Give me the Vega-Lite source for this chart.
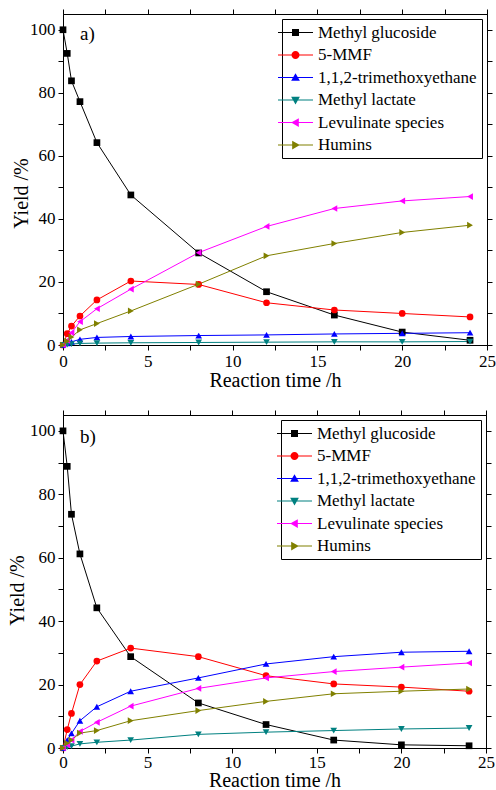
{
  "$schema": "https://vega.github.io/schema/vega-lite/v6.json",
  "background": "white",
  "padding": {"left": 7, "top": 8, "right": 0, "bottom": 0},
  "spacing": 18,
  "align": "none",
  "datasets": {
    "d": [
      {"p":"a","s":"Methyl glucoside","t":0,"y":100},{"p":"a","s":"Methyl glucoside","t":0.25,"y":92.5},{"p":"a","s":"Methyl glucoside","t":0.5,"y":83.8},{"p":"a","s":"Methyl glucoside","t":1,"y":77.2},{"p":"a","s":"Methyl glucoside","t":2,"y":64.2},{"p":"a","s":"Methyl glucoside","t":4,"y":47.6},{"p":"a","s":"Methyl glucoside","t":8,"y":29.2},{"p":"a","s":"Methyl glucoside","t":12,"y":16.9},{"p":"a","s":"Methyl glucoside","t":16,"y":9.5},{"p":"a","s":"Methyl glucoside","t":20,"y":4.1},{"p":"a","s":"Methyl glucoside","t":24,"y":1.5},
      {"p":"a","s":"5-MMF","t":0,"y":0},{"p":"a","s":"5-MMF","t":0.25,"y":3.6},{"p":"a","s":"5-MMF","t":0.5,"y":6.0},{"p":"a","s":"5-MMF","t":1,"y":9.2},{"p":"a","s":"5-MMF","t":2,"y":14.3},{"p":"a","s":"5-MMF","t":4,"y":20.3},{"p":"a","s":"5-MMF","t":8,"y":19.2},{"p":"a","s":"5-MMF","t":12,"y":13.4},{"p":"a","s":"5-MMF","t":16,"y":11.1},{"p":"a","s":"5-MMF","t":20,"y":10.0},{"p":"a","s":"5-MMF","t":24,"y":8.9},
      {"p":"a","s":"1,1,2-trimethoxyethane","t":0,"y":0},{"p":"a","s":"1,1,2-trimethoxyethane","t":0.25,"y":0.5},{"p":"a","s":"1,1,2-trimethoxyethane","t":0.5,"y":1.0},{"p":"a","s":"1,1,2-trimethoxyethane","t":1,"y":1.8},{"p":"a","s":"1,1,2-trimethoxyethane","t":2,"y":2.4},{"p":"a","s":"1,1,2-trimethoxyethane","t":4,"y":2.7},{"p":"a","s":"1,1,2-trimethoxyethane","t":8,"y":3.0},{"p":"a","s":"1,1,2-trimethoxyethane","t":12,"y":3.2},{"p":"a","s":"1,1,2-trimethoxyethane","t":16,"y":3.5},{"p":"a","s":"1,1,2-trimethoxyethane","t":20,"y":3.7},{"p":"a","s":"1,1,2-trimethoxyethane","t":24,"y":3.9},
      {"p":"a","s":"Methyl lactate","t":0,"y":0},{"p":"a","s":"Methyl lactate","t":0.25,"y":0.1},{"p":"a","s":"Methyl lactate","t":0.5,"y":0.3},{"p":"a","s":"Methyl lactate","t":1,"y":0.5},{"p":"a","s":"Methyl lactate","t":2,"y":0.6},{"p":"a","s":"Methyl lactate","t":4,"y":0.7},{"p":"a","s":"Methyl lactate","t":8,"y":0.8},{"p":"a","s":"Methyl lactate","t":12,"y":0.9},{"p":"a","s":"Methyl lactate","t":16,"y":1.0},{"p":"a","s":"Methyl lactate","t":20,"y":1.0},{"p":"a","s":"Methyl lactate","t":24,"y":1.1},
      {"p":"a","s":"Levulinate species","t":0,"y":0},{"p":"a","s":"Levulinate species","t":0.25,"y":1.5},{"p":"a","s":"Levulinate species","t":0.5,"y":3.9},{"p":"a","s":"Levulinate species","t":1,"y":7.4},{"p":"a","s":"Levulinate species","t":2,"y":11.5},{"p":"a","s":"Levulinate species","t":4,"y":17.7},{"p":"a","s":"Levulinate species","t":8,"y":29.3},{"p":"a","s":"Levulinate species","t":12,"y":37.6},{"p":"a","s":"Levulinate species","t":16,"y":43.3},{"p":"a","s":"Levulinate species","t":20,"y":45.7},{"p":"a","s":"Levulinate species","t":24,"y":47.1},
      {"p":"a","s":"Humins","t":0,"y":0},{"p":"a","s":"Humins","t":0.25,"y":1.2},{"p":"a","s":"Humins","t":0.5,"y":2.5},{"p":"a","s":"Humins","t":1,"y":4.8},{"p":"a","s":"Humins","t":2,"y":6.8},{"p":"a","s":"Humins","t":4,"y":10.8},{"p":"a","s":"Humins","t":8,"y":19.3},{"p":"a","s":"Humins","t":12,"y":28.3},{"p":"a","s":"Humins","t":16,"y":32.2},{"p":"a","s":"Humins","t":20,"y":35.7},{"p":"a","s":"Humins","t":24,"y":38.0},
      {"p":"b","s":"Methyl glucoside","t":0,"y":100},{"p":"b","s":"Methyl glucoside","t":0.25,"y":88.8},{"p":"b","s":"Methyl glucoside","t":0.5,"y":73.7},{"p":"b","s":"Methyl glucoside","t":1,"y":61.2},{"p":"b","s":"Methyl glucoside","t":2,"y":44.2},{"p":"b","s":"Methyl glucoside","t":4,"y":28.8},{"p":"b","s":"Methyl glucoside","t":8,"y":14.2},{"p":"b","s":"Methyl glucoside","t":12,"y":7.4},{"p":"b","s":"Methyl glucoside","t":16,"y":2.5},{"p":"b","s":"Methyl glucoside","t":20,"y":1.0},{"p":"b","s":"Methyl glucoside","t":24,"y":0.7},
      {"p":"b","s":"5-MMF","t":0,"y":0},{"p":"b","s":"5-MMF","t":0.25,"y":5.8},{"p":"b","s":"5-MMF","t":0.5,"y":10.9},{"p":"b","s":"5-MMF","t":1,"y":20.0},{"p":"b","s":"5-MMF","t":2,"y":27.4},{"p":"b","s":"5-MMF","t":4,"y":31.5},{"p":"b","s":"5-MMF","t":8,"y":28.8},{"p":"b","s":"5-MMF","t":12,"y":22.8},{"p":"b","s":"5-MMF","t":16,"y":20.2},{"p":"b","s":"5-MMF","t":20,"y":19.2},{"p":"b","s":"5-MMF","t":24,"y":17.9},
      {"p":"b","s":"1,1,2-trimethoxyethane","t":0,"y":0},{"p":"b","s":"1,1,2-trimethoxyethane","t":0.25,"y":2.5},{"p":"b","s":"1,1,2-trimethoxyethane","t":0.5,"y":4.6},{"p":"b","s":"1,1,2-trimethoxyethane","t":1,"y":8.6},{"p":"b","s":"1,1,2-trimethoxyethane","t":2,"y":13.0},{"p":"b","s":"1,1,2-trimethoxyethane","t":4,"y":17.9},{"p":"b","s":"1,1,2-trimethoxyethane","t":8,"y":22.1},{"p":"b","s":"1,1,2-trimethoxyethane","t":12,"y":26.5},{"p":"b","s":"1,1,2-trimethoxyethane","t":16,"y":28.8},{"p":"b","s":"1,1,2-trimethoxyethane","t":20,"y":30.2},{"p":"b","s":"1,1,2-trimethoxyethane","t":24,"y":30.5},
      {"p":"b","s":"Methyl lactate","t":0,"y":0},{"p":"b","s":"Methyl lactate","t":0.25,"y":0.3},{"p":"b","s":"Methyl lactate","t":0.5,"y":0.6},{"p":"b","s":"Methyl lactate","t":1,"y":1.3},{"p":"b","s":"Methyl lactate","t":2,"y":1.8},{"p":"b","s":"Methyl lactate","t":4,"y":2.5},{"p":"b","s":"Methyl lactate","t":8,"y":4.3},{"p":"b","s":"Methyl lactate","t":12,"y":5.0},{"p":"b","s":"Methyl lactate","t":16,"y":5.5},{"p":"b","s":"Methyl lactate","t":20,"y":6.0},{"p":"b","s":"Methyl lactate","t":24,"y":6.3},
      {"p":"b","s":"Levulinate species","t":0,"y":0},{"p":"b","s":"Levulinate species","t":0.25,"y":1.0},{"p":"b","s":"Levulinate species","t":0.5,"y":2.5},{"p":"b","s":"Levulinate species","t":1,"y":5.2},{"p":"b","s":"Levulinate species","t":2,"y":8.1},{"p":"b","s":"Levulinate species","t":4,"y":13.2},{"p":"b","s":"Levulinate species","t":8,"y":18.8},{"p":"b","s":"Levulinate species","t":12,"y":22.1},{"p":"b","s":"Levulinate species","t":16,"y":24.1},{"p":"b","s":"Levulinate species","t":20,"y":25.5},{"p":"b","s":"Levulinate species","t":24,"y":26.8},
      {"p":"b","s":"Humins","t":0,"y":0},{"p":"b","s":"Humins","t":0.25,"y":1.5},{"p":"b","s":"Humins","t":0.5,"y":2.5},{"p":"b","s":"Humins","t":1,"y":4.7},{"p":"b","s":"Humins","t":2,"y":5.5},{"p":"b","s":"Humins","t":4,"y":8.6},{"p":"b","s":"Humins","t":8,"y":11.8},{"p":"b","s":"Humins","t":12,"y":14.7},{"p":"b","s":"Humins","t":16,"y":17.1},{"p":"b","s":"Humins","t":20,"y":17.9},{"p":"b","s":"Humins","t":24,"y":18.6}
    ]
  },
  "vconcat": [
    {
      "width": 424, "height": 331,
      "data": {"name": "d"},
      "transform": [{"filter": "datum.p == 'a'"}],
      "layer": [
        {
          "mark": {"type": "line", "strokeWidth": 1},
          "encoding": {
            "x": {"field": "t", "type": "quantitative", "scale": {"domain": [0, 25], "nice": false},
                  "axis": {"title": "Reaction time /h", "values": [0,2.5,5,7.5,10,12.5,15,17.5,20,22.5,25], "labelExpr": "datum.value % 5 == 0 ? datum.label : ''", "labelFlush": false, "labelOverlap": false, "labelPadding": 3, "titlePadding": 1,
                           "encode": {"ticks": {"update": {"y2": {"signal": "datum.value % 5 == 0 ? 5 : 3"}}}}}},
            "y": {"field": "y", "type": "quantitative", "scale": {"domain": [0, 105], "nice": false, "zero": true},
                  "axis": {"title": "Yield /%", "values": [0,10,20,30,40,50,60,70,80,90,100], "labelExpr": "datum.value % 20 == 0 ? datum.label : ''", "labelOverlap": false, "labelPadding": 3, "titlePadding": -2, "titleY": 179, "titleAlign": "center",
                           "encode": {"ticks": {"update": {"x2": {"signal": "datum.value % 20 == 0 ? -5 : -3"}}}}}},
            "color": {"field": "s", "type": "nominal",
                      "scale": {"domain": ["Methyl glucoside","5-MMF","1,1,2-trimethoxyethane","Methyl lactate","Levulinate species","Humins"], "range": ["#000000","#ff0000","#0000ff","#008080","#ff00ff","#808000"]}}
          }
        },
        {"transform": [{"filter": "datum.s == 'Methyl glucoside'"}], "mark": {"type": "point", "shape": "square", "filled": true, "opacity": 1, "size": 45},
         "encoding": {"x": {"field": "t", "type": "quantitative", "axis": null}, "y": {"field": "y", "type": "quantitative", "axis": null}, "color": {"field": "s", "type": "nominal"}}},
        {"transform": [{"filter": "datum.s == '5-MMF'"}], "mark": {"type": "point", "shape": "circle", "filled": true, "opacity": 1, "size": 45},
         "encoding": {"x": {"field": "t", "type": "quantitative", "axis": null}, "y": {"field": "y", "type": "quantitative", "axis": null}, "color": {"field": "s", "type": "nominal"}}},
        {"transform": [{"filter": "datum.s == '1,1,2-trimethoxyethane'"}], "mark": {"type": "point", "shape": "triangle-up", "filled": true, "opacity": 1, "size": 45},
         "encoding": {"x": {"field": "t", "type": "quantitative", "axis": null}, "y": {"field": "y", "type": "quantitative", "axis": null}, "color": {"field": "s", "type": "nominal"}}},
        {"transform": [{"filter": "datum.s == 'Methyl lactate'"}], "mark": {"type": "point", "shape": "triangle-down", "filled": true, "opacity": 1, "size": 45},
         "encoding": {"x": {"field": "t", "type": "quantitative", "axis": null}, "y": {"field": "y", "type": "quantitative", "axis": null}, "color": {"field": "s", "type": "nominal"}}},
        {"transform": [{"filter": "datum.s == 'Levulinate species'"}], "mark": {"type": "point", "shape": "triangle-left", "filled": true, "opacity": 1, "size": 45},
         "encoding": {"x": {"field": "t", "type": "quantitative", "axis": null}, "y": {"field": "y", "type": "quantitative", "axis": null}, "color": {"field": "s", "type": "nominal"}}},
        {"transform": [{"filter": "datum.s == 'Humins'"}], "mark": {"type": "point", "shape": "triangle-right", "filled": true, "opacity": 1, "size": 45},
         "encoding": {"x": {"field": "t", "type": "quantitative", "axis": null}, "y": {"field": "y", "type": "quantitative", "axis": null}, "color": {"field": "s", "type": "nominal"}}},
        {
          "transform": [{"filter": "false"}],
          "mark": {"type": "point", "filled": true, "opacity": 1, "size": 49},
          "encoding": {
            "x": {"field": "t", "type": "quantitative", "axis": null},
            "y": {"field": "y", "type": "quantitative", "axis": null},
            "color": {"field": "s", "type": "nominal",
                      "legend": {"title": null, "orient": "top-right", "offset": 5, "symbolOffset": 0, "labelOffset": 14,
                                 "encode": {"symbols": {"update": {"opacity": {"value": 1}, "size": {"value": 49}}}}}},
            "shape": {"field": "s", "type": "nominal",
                      "scale": {"domain": ["Methyl glucoside","5-MMF","1,1,2-trimethoxyethane","Methyl lactate","Levulinate species","Humins"],
                                "range": ["M-5,-0.15H5V0.15H-5ZM-1,-1H1V1H-1Z",
                                          "M-5,-0.15H5V0.15H-5ZM-1.15,0A1.15,1.15 0 1,1 1.15,0A1.15,1.15 0 1,1 -1.15,0Z",
                                          "M-5,-0.15H5V0.15H-5ZM0,-1.25L1.25,0.95H-1.25Z",
                                          "M-5,-0.15H5V0.15H-5ZM0,1.25L-1.25,-0.95H1.25Z",
                                          "M-5,-0.15H5V0.15H-5ZM-1.25,0L0.95,-1.25V1.25Z",
                                          "M-5,-0.15H5V0.15H-5ZM1.25,0L-0.95,1.25V-1.25Z"]},
                      "legend": {"title": null, "orient": "top-right", "offset": 5, "symbolOffset": 0, "labelOffset": 14,
                                 "encode": {"symbols": {"update": {"opacity": {"value": 1}, "size": {"value": 49}}}}}}
          }
        },
        {
          "mark": {"type": "point", "opacity": 0},
          "encoding": {
            "x": {"field": "t", "type": "quantitative",
                  "axis": {"orient": "top", "title": null, "labels": false, "values": [0,2.5,5,7.5,10,12.5,15,17.5,20,22.5,25],
                           "encode": {"ticks": {"update": {"y2": {"signal": "datum.value % 5 == 0 ? -5 : -3"}}}}}},
            "y": {"field": "y", "type": "quantitative",
                  "axis": {"orient": "right", "title": null, "labels": false, "values": [0,10,20,30,40,50,60,70,80,90,100],
                           "encode": {"ticks": {"update": {"x2": {"signal": "datum.value % 20 == 0 ? 5 : 3"}}}}}}
          }
        },
        {
          "data": {"values": [{"p": "a", "label": "a)"}]},
          "mark": {"type": "text", "font": "Liberation Serif", "fontSize": 19, "align": "left", "baseline": "middle", "color": "black"},
          "encoding": {
            "x": {"datum": 1.0, "type": "quantitative", "axis": null},
            "y": {"datum": 98.7, "type": "quantitative", "axis": null},
            "text": {"field": "label"}
          }
        }
      ],
      "resolve": {"axis": {"x": "independent", "y": "independent"}}
    },
    {
      "width": 423, "height": 333,
      "data": {"name": "d"},
      "transform": [{"filter": "datum.p == 'b'"}],
      "layer": [
        {
          "mark": {"type": "line", "strokeWidth": 1},
          "encoding": {
            "x": {"field": "t", "type": "quantitative", "scale": {"domain": [0, 25], "nice": false},
                  "axis": {"title": "Reaction time /h", "values": [0,2.5,5,7.5,10,12.5,15,17.5,20,22.5,25], "labelExpr": "datum.value % 5 == 0 ? datum.label : ''", "labelFlush": false, "labelOverlap": false, "labelPadding": 1, "titlePadding": 0,
                           "encode": {"ticks": {"update": {"y2": {"signal": "datum.value % 5 == 0 ? 5 : 3"}}}}}},
            "y": {"field": "y", "type": "quantitative", "scale": {"domain": [0, 105], "nice": false, "zero": true},
                  "axis": {"title": "Yield /%", "values": [0,10,20,30,40,50,60,70,80,90,100], "labelExpr": "datum.value % 20 == 0 ? datum.label : ''", "labelOverlap": false, "labelPadding": 3, "titlePadding": 2, "titleY": 175, "titleAlign": "center",
                           "encode": {"ticks": {"update": {"x2": {"signal": "datum.value % 20 == 0 ? -5 : -3"}}}}}},
            "color": {"field": "s", "type": "nominal",
                      "scale": {"domain": ["Methyl glucoside","5-MMF","1,1,2-trimethoxyethane","Methyl lactate","Levulinate species","Humins"], "range": ["#000000","#ff0000","#0000ff","#008080","#ff00ff","#808000"]}}
          }
        },
        {"transform": [{"filter": "datum.s == 'Methyl glucoside'"}], "mark": {"type": "point", "shape": "square", "filled": true, "opacity": 1, "size": 45},
         "encoding": {"x": {"field": "t", "type": "quantitative", "axis": null}, "y": {"field": "y", "type": "quantitative", "axis": null}, "color": {"field": "s", "type": "nominal"}}},
        {"transform": [{"filter": "datum.s == '5-MMF'"}], "mark": {"type": "point", "shape": "circle", "filled": true, "opacity": 1, "size": 45},
         "encoding": {"x": {"field": "t", "type": "quantitative", "axis": null}, "y": {"field": "y", "type": "quantitative", "axis": null}, "color": {"field": "s", "type": "nominal"}}},
        {"transform": [{"filter": "datum.s == '1,1,2-trimethoxyethane'"}], "mark": {"type": "point", "shape": "triangle-up", "filled": true, "opacity": 1, "size": 45},
         "encoding": {"x": {"field": "t", "type": "quantitative", "axis": null}, "y": {"field": "y", "type": "quantitative", "axis": null}, "color": {"field": "s", "type": "nominal"}}},
        {"transform": [{"filter": "datum.s == 'Methyl lactate'"}], "mark": {"type": "point", "shape": "triangle-down", "filled": true, "opacity": 1, "size": 45},
         "encoding": {"x": {"field": "t", "type": "quantitative", "axis": null}, "y": {"field": "y", "type": "quantitative", "axis": null}, "color": {"field": "s", "type": "nominal"}}},
        {"transform": [{"filter": "datum.s == 'Levulinate species'"}], "mark": {"type": "point", "shape": "triangle-left", "filled": true, "opacity": 1, "size": 45},
         "encoding": {"x": {"field": "t", "type": "quantitative", "axis": null}, "y": {"field": "y", "type": "quantitative", "axis": null}, "color": {"field": "s", "type": "nominal"}}},
        {"transform": [{"filter": "datum.s == 'Humins'"}], "mark": {"type": "point", "shape": "triangle-right", "filled": true, "opacity": 1, "size": 45},
         "encoding": {"x": {"field": "t", "type": "quantitative", "axis": null}, "y": {"field": "y", "type": "quantitative", "axis": null}, "color": {"field": "s", "type": "nominal"}}},
        {
          "transform": [{"filter": "false"}],
          "mark": {"type": "point", "filled": true, "opacity": 1, "size": 49},
          "encoding": {
            "x": {"field": "t", "type": "quantitative", "axis": null},
            "y": {"field": "y", "type": "quantitative", "axis": null},
            "color": {"field": "s", "type": "nominal",
                      "legend": {"title": null, "orient": "top-right", "offset": 5, "symbolOffset": 0, "labelOffset": 14,
                                 "encode": {"symbols": {"update": {"opacity": {"value": 1}, "size": {"value": 49}}}}}},
            "shape": {"field": "s", "type": "nominal",
                      "scale": {"domain": ["Methyl glucoside","5-MMF","1,1,2-trimethoxyethane","Methyl lactate","Levulinate species","Humins"],
                                "range": ["M-5,-0.15H5V0.15H-5ZM-1,-1H1V1H-1Z",
                                          "M-5,-0.15H5V0.15H-5ZM-1.15,0A1.15,1.15 0 1,1 1.15,0A1.15,1.15 0 1,1 -1.15,0Z",
                                          "M-5,-0.15H5V0.15H-5ZM0,-1.25L1.25,0.95H-1.25Z",
                                          "M-5,-0.15H5V0.15H-5ZM0,1.25L-1.25,-0.95H1.25Z",
                                          "M-5,-0.15H5V0.15H-5ZM-1.25,0L0.95,-1.25V1.25Z",
                                          "M-5,-0.15H5V0.15H-5ZM1.25,0L-0.95,1.25V-1.25Z"]},
                      "legend": {"title": null, "orient": "top-right", "offset": 5, "symbolOffset": 0, "labelOffset": 14,
                                 "encode": {"symbols": {"update": {"opacity": {"value": 1}, "size": {"value": 49}}}}}}
          }
        },
        {
          "mark": {"type": "point", "opacity": 0},
          "encoding": {
            "x": {"field": "t", "type": "quantitative",
                  "axis": {"orient": "top", "title": null, "labels": false, "values": [0,2.5,5,7.5,10,12.5,15,17.5,20,22.5,25],
                           "encode": {"ticks": {"update": {"y2": {"signal": "datum.value % 5 == 0 ? -5 : -3"}}}}}},
            "y": {"field": "y", "type": "quantitative",
                  "axis": {"orient": "right", "title": null, "labels": false, "values": [0,10,20,30,40,50,60,70,80,90,100],
                           "encode": {"ticks": {"update": {"x2": {"signal": "datum.value % 20 == 0 ? 5 : 3"}}}}}}
          }
        },
        {
          "data": {"values": [{"p": "b", "label": "b)"}]},
          "mark": {"type": "text", "font": "Liberation Serif", "fontSize": 19, "align": "left", "baseline": "middle", "color": "black"},
          "encoding": {
            "x": {"datum": 1.0, "type": "quantitative", "axis": null},
            "y": {"datum": 98.2, "type": "quantitative", "axis": null},
            "text": {"field": "label"}
          }
        }
      ],
      "resolve": {"axis": {"x": "independent", "y": "independent"}}
    }
  ],
  "resolve": {"scale": {"color": "independent", "shape": "independent"}, "legend": {"color": "independent", "shape": "independent"}},
  "config": {
    "font": "Liberation Serif",
    "view": {"stroke": "black", "strokeWidth": 1},
    "axis": {"grid": false, "domainColor": "black", "domainWidth": 1, "tickColor": "black", "tickWidth": 1, "tickSize": 5,
             "labelColor": "black", "titleColor": "black", "labelFont": "Liberation Serif", "labelFontSize": 17,
             "titleFont": "Liberation Serif", "titleFontSize": 20, "titleFontWeight": "normal"},
    "legend": {"labelFont": "Liberation Serif", "labelFontSize": 17, "labelColor": "black", "strokeColor": "black", "fillColor": "white",
               "padding": 5, "rowPadding": 4.5, "symbolSize": 49, "symbolStrokeWidth": 0, "symbolOpacity": 1, "labelLimit": 300}
  }
}
